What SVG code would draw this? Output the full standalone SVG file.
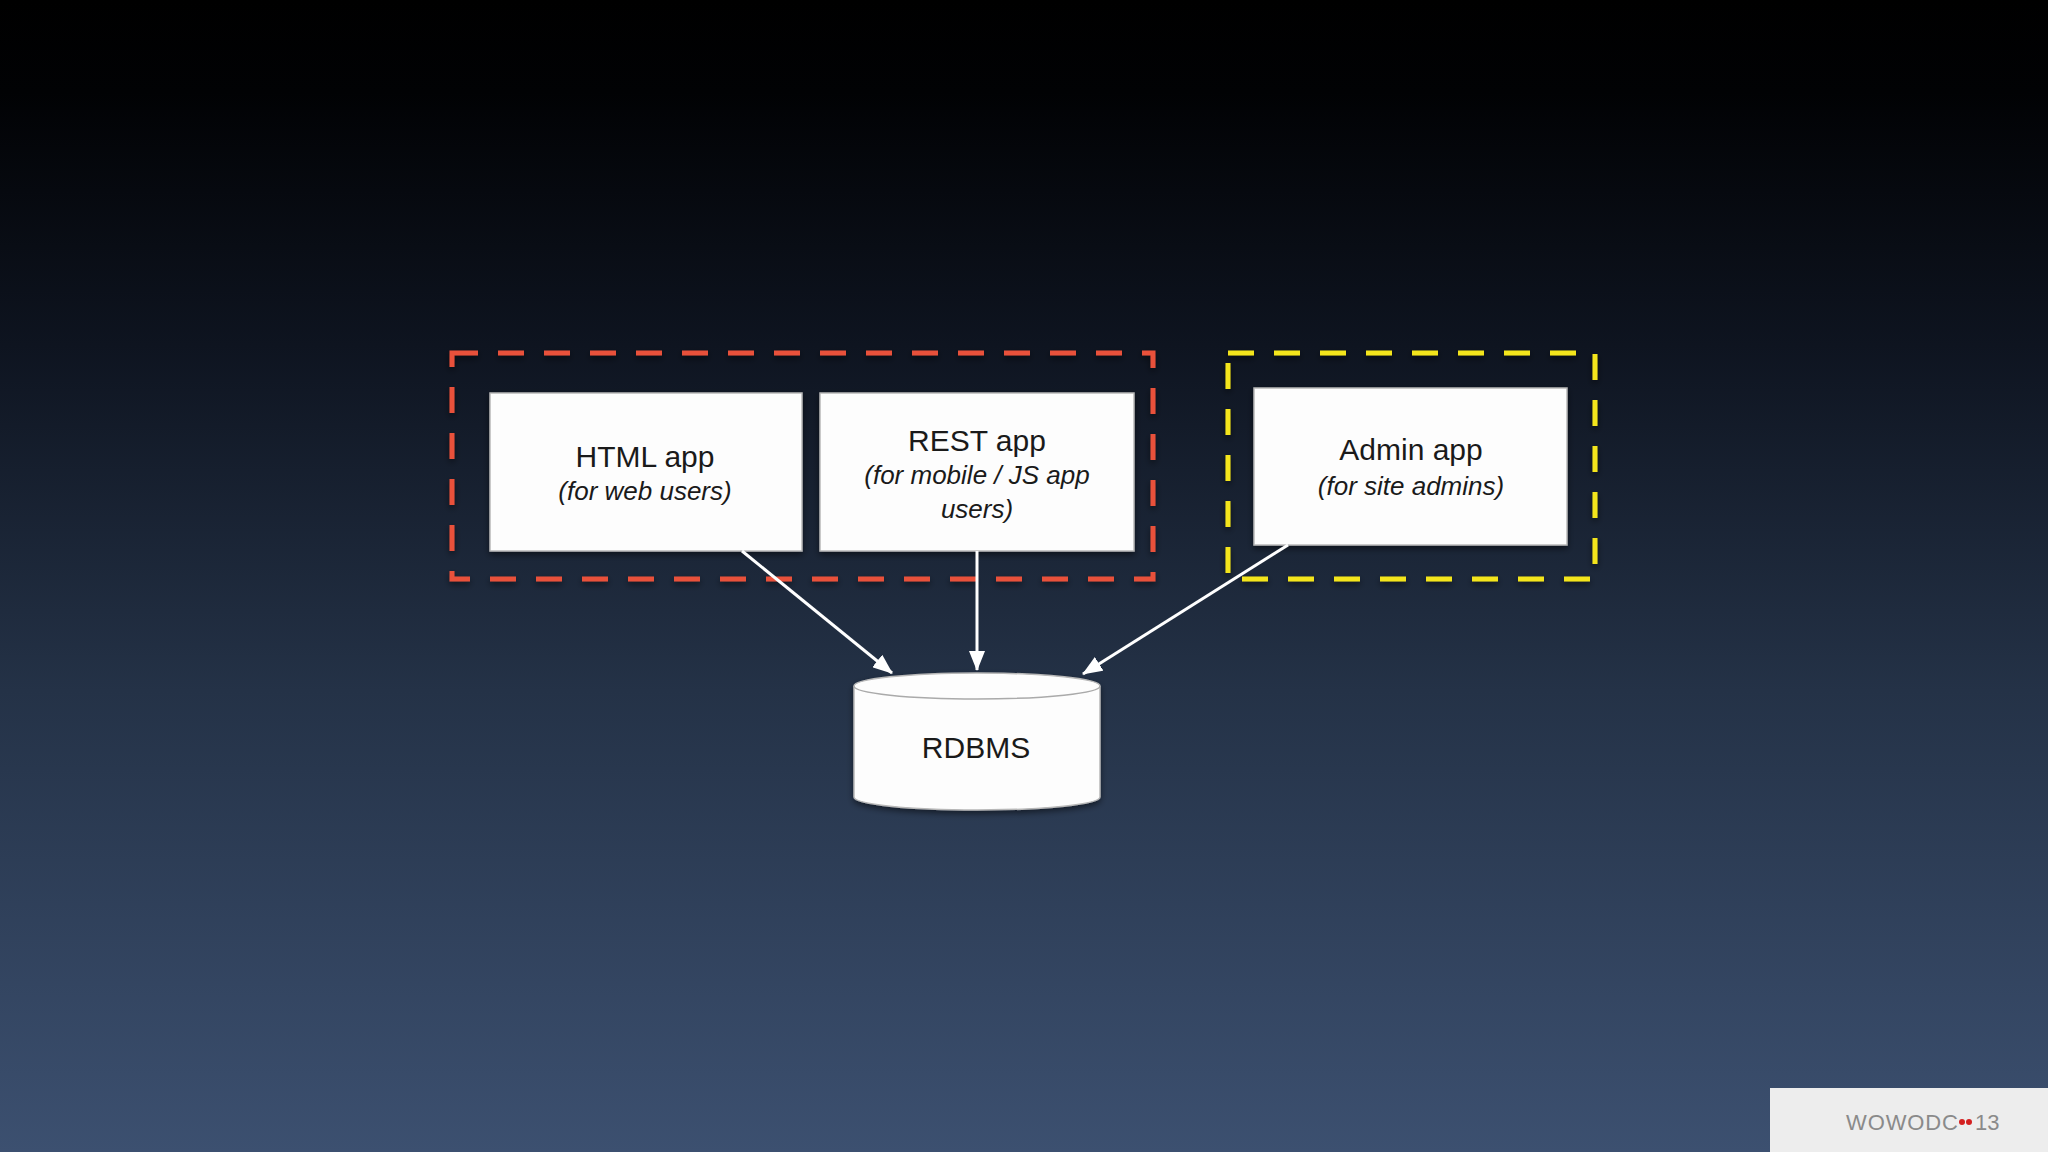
<svg xmlns="http://www.w3.org/2000/svg" width="2048" height="1152" viewBox="0 0 2048 1152">
<defs>
<linearGradient id="bg" x1="0" y1="0" x2="0" y2="1">
<stop offset="0" stop-color="#000000"/>
<stop offset="0.08" stop-color="#010204"/>
<stop offset="0.3" stop-color="#0e1420"/>
<stop offset="0.6" stop-color="#243247"/>
<stop offset="1" stop-color="#3c5070"/>
</linearGradient>
<filter id="sh" x="-10%" y="-10%" width="120%" height="130%">
<feDropShadow dx="0" dy="3" stdDeviation="3" flood-color="#000" flood-opacity="0.5"/>
</filter>
<marker id="ah" viewBox="0 0 20 16" refX="19" refY="8" markerWidth="20" markerHeight="16" markerUnits="userSpaceOnUse" orient="auto">
<path d="M0,0 L20,8 L0,16 z" fill="#ffffff"/>
</marker>
</defs>
<style>
.box{fill:#fdfdfd;stroke:#b8b8b8;stroke-width:1.5}
.t{font-family:"Liberation Sans",Arial,sans-serif;font-size:30px;fill:#1a1a1a;text-anchor:middle}
.s{font-family:"Liberation Sans",Arial,sans-serif;font-size:26px;font-style:italic;fill:#1a1a1a;text-anchor:middle}
.grp{fill:none;stroke-width:5;stroke-dasharray:26 20}
.con{stroke:#ffffff;stroke-width:3;fill:none;marker-end:url(#ah)}
</style>
<rect x="0" y="0" width="2048" height="1152" fill="url(#bg)"/>

<g id="group-red">
<rect class="grp" x="452" y="353" width="701" height="226" stroke="#e9513a" filter="url(#sh)"/>
</g>
<g id="group-yellow">
<rect class="grp" x="1228" y="353" width="367" height="226" stroke="#f4e51c" filter="url(#sh)"/>
</g>

<g id="html-app">
<rect class="box" x="490" y="393" width="312" height="158" filter="url(#sh)"/>
<text class="t" x="645" y="467">HTML app</text>
<text class="s" x="645" y="500">(for web users)</text>
</g>
<g id="rest-app">
<rect class="box" x="820" y="393" width="314" height="158" filter="url(#sh)"/>
<text class="t" x="977" y="451">REST app</text>
<text class="s" x="977" y="484">(for mobile / JS app</text>
<text class="s" x="977" y="518">users)</text>
</g>
<g id="admin-app">
<rect class="box" x="1254" y="388" width="313" height="157" filter="url(#sh)"/>
<text class="t" x="1411" y="460">Admin app</text>
<text class="s" x="1411" y="495">(for site admins)</text>
</g>
<g id="rdbms">
<path d="M854,686 L854,797 A123,13 0 0 0 1100,797 L1100,686 A123,13 0 0 0 854,686 z" fill="#fdfdfd" stroke="#b8b8b8" stroke-width="1.5" filter="url(#sh)"/>
<path d="M854,686 A123,13 0 0 0 1100,686" fill="none" stroke="#aaaaaa" stroke-width="1.5"/>
<text class="t" x="976" y="758">RDBMS</text>
</g>

<g id="connectors">
<line class="con" x1="742" y1="551" x2="892" y2="673"/>
<line class="con" x1="977" y1="551" x2="977" y2="670"/>
<line class="con" x1="1288" y1="545" x2="1083" y2="674"/>
</g>

<g id="watermark">
<rect x="1770" y="1088" width="278" height="64" fill="#ededed"/>
<text x="1846" y="1130" font-family="'Liberation Sans',Arial,sans-serif" font-size="22" fill="#8a8a8a" textLength="112">WOWODC</text>
<circle cx="1962" cy="1122" r="3" fill="#d42020"/>
<circle cx="1969" cy="1122" r="3" fill="#d42020"/>
<text x="1975" y="1130" font-family="'Liberation Sans',Arial,sans-serif" font-size="22" fill="#8a8a8a">13</text>
</g>
</svg>
